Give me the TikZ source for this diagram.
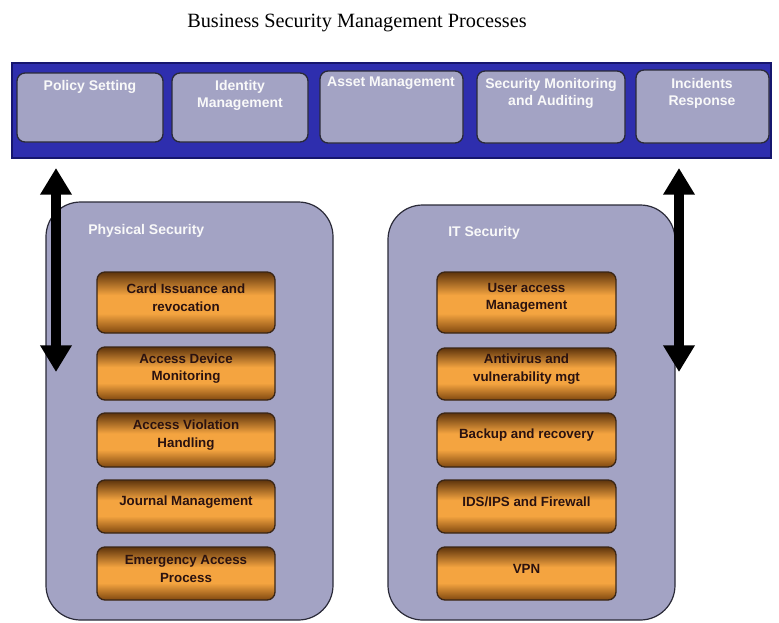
\documentclass[tikz,border=0pt]{standalone}
\usepackage{fontspec}
\setmainfont{Liberation Serif}
\newfontfamily\arialb{Liberation Sans}
\usetikzlibrary{fit,arrows.meta}
\definecolor{barblue}{HTML}{2E2EAE}
\definecolor{baredge}{HTML}{16166E}
\definecolor{lilac}{HTML}{A3A3C4}
\definecolor{lilacedge}{HTML}{2A2A38}
\definecolor{oredge}{HTML}{3A2616}
\definecolor{ortext}{HTML}{2A1210}
\definecolor{ortop}{HTML}{5E340C}
\definecolor{orbot}{HTML}{80480F}
\definecolor{ormid}{HTML}{F4A440}
\pgfdeclareverticalshading{orshade}{100bp}{
  color(0bp)=(orbot);
  color(25bp)=(orbot);
  color(41bp)=(ormid);
  color(56bp)=(ormid);
  color(75bp)=(ortop);
  color(100bp)=(ortop)}
\tikzset{
  bar/.style={fill=barblue, draw=baredge, line width=1pt, inner sep=0pt},
  topbox/.style={fill=lilac, draw=lilacedge, line width=1pt, rounded corners=6pt, inner sep=0pt},
  toptext/.style={text=white!95!gray, font=\arialb\bfseries\fontsize{10.5}{13}\selectfont, align=center, inner sep=0pt, anchor=north},
  container/.style={fill=lilac, draw=lilacedge, line width=0.9pt, rounded corners=26pt, inner sep=0pt},
  contlabel/.style={text=white!95!gray, font=\arialb\bfseries\fontsize{10.5}{13}\selectfont, inner sep=0pt, anchor=west},
  orbox/.style={shading=orshade, draw=oredge, line width=1pt, rounded corners=6pt, inner sep=0pt, text=ortext, font=\arialb\bfseries\fontsize{10}{13}\selectfont, align=center},
  bigarrow/.style={line width=6.8pt, {Triangle[length=20pt,width=22.5pt]}-{Triangle[length=20pt,width=22.5pt]}},
  titletext/.style={font=\fontsize{15.2}{18}\selectfont, inner sep=0pt}
}
\begin{document}
\begin{tikzpicture}[x=0.75pt,y=-0.75pt]
\useasboundingbox (0,0) rectangle (779,622);
% title
\node[titletext] (title) at (357,23) {Business Security Management Processes};
% top bar
\node[bar, fit={(12,63)(771,158)}] (bar) {};
\node[topbox, fit={(17,73)(163,142)}] (b1) {};
\node[topbox, fit={(172,73)(308,142)}] (b2) {};
\node[topbox, fit={(320,71)(463,143)}] (b3) {};
\node[topbox, fit={(477,71)(625,143)}] (b4) {};
\node[topbox, fit={(636,70)(769,143)}] (b5) {};
\node[toptext] (t1) at (90,80) {Policy Setting};
\node[toptext] (t2) at (240,80) {Identity\\Management};
\node[toptext] (t3) at (391,77) {Asset Management};
\node[toptext] (t4) at (551,78) {Security Monitoring\\and Auditing};
\node[toptext] (t5) at (702,78) {Incidents\\Response};
% containers
\node[container, fit={(46,202)(333,620)}] (phys) {};
\node[container, fit={(388,205)(675,620)}] (it) {};
\node[contlabel] (physl) at (88,231) {Physical Security};
\node[contlabel] (itl) at (448,233) {IT Security};
% physical boxes
\node[orbox, fit={(97,272)(275,333)}] (p1) {Card Issuance and\\revocation};
\node[orbox, fit={(97,347)(275,400)}] (p2) {Access Device\\Monitoring};
\node[orbox, fit={(97,413)(275,467)}] (p3) {Access Violation\\Handling};
\node[orbox, fit={(97,480)(275,533)}] (p4) {Journal Management};
\node[orbox, fit={(97,547)(275,600)}] (p5) {Emergency Access\\Process};
% IT boxes
\node[orbox, fit={(437,272)(616,333)}] (i1) {User access\\Management};
\node[orbox, fit={(437,348)(616,400)}] (i2) {Antivirus and\\vulnerability mgt};
\node[orbox, fit={(437,413)(616,467)}] (i3) {Backup and recovery};
\node[orbox, fit={(437,480)(616,533)}] (i4) {IDS/IPS and Firewall};
\node[orbox, fit={(437,547)(616,600)}] (i5) {VPN};
% arrows
\coordinate (la) at (56,168);
\coordinate (lb) at (56,372);
\coordinate (ra) at (679,168);
\coordinate (rb) at (679,372);
\draw[bigarrow] (la) -- (lb);
\draw[bigarrow] (ra) -- (rb);
\end{tikzpicture}
\end{document}
